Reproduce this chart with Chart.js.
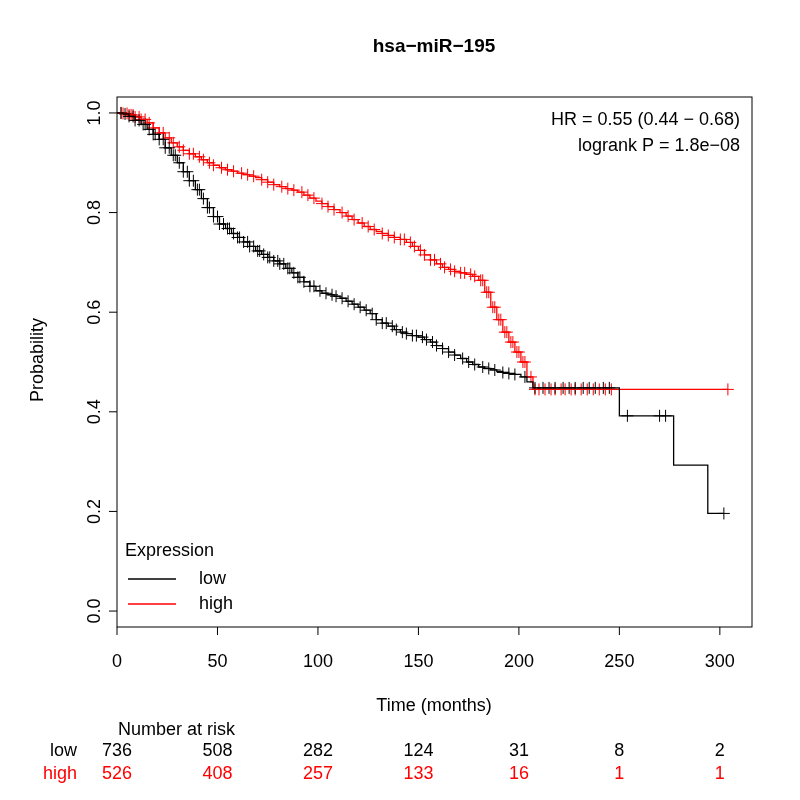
<!DOCTYPE html>
<html>
<head>
<meta charset="utf-8">
<script src="https://cdn.jsdelivr.net/npm/chart.js@4"></script>
<style>
  html, body { margin: 0; padding: 0; background: #fff; }
  #wrap { width: 800px; height: 800px; }
</style>
</head>
<body>
<div id="wrap"><canvas id="km" width="800" height="800"></canvas></div>
<script>
// survival step curves (time in months, probability)
const lowTimes  = [0,3,6,9,12,15,18,21,24,27,30,33,36,39,42,45,48,51,54,57,60,63,66,69,72,75,78,81,84,87,90,93,96,99,102,105,108,111,114,117,120,123,126,129,132,135,138,141,144,147,150,153,156,159,162,165,168,171,174,177,180,183,186,189,192,195,198,201,204,207,250,277,294,302];
const lowSurv   = [1.0,.998,.993,.985,.977,.967,.957,.947,.93,.915,.9,.882,.864,.846,.828,.81,.792,.777,.768,.758,.75,.741,.732,.723,.716,.71,.703,.697,.688,.679,.67,.661,.652,.643,.638,.635,.632,.628,.622,.616,.61,.604,.597,.585,.578,.572,.565,.56,.557,.553,.55,.545,.54,.533,.527,.52,.514,.507,.5,.495,.49,.487,.484,.481,.479,.477,.475,.47,.46,.448,.392,.293,.196,.196];
const highTimes = [0,3,6,9,12,15,18,21,24,27,30,33,36,39,42,45,48,51,54,57,60,63,66,69,72,75,78,81,84,87,90,93,96,99,102,105,108,111,114,117,120,123,126,129,132,135,138,141,144,147,150,153,156,159,162,165,168,171,174,177,180,183,186,189,192,195,198,201,204,207,304];
const highSurv  = [1,.999,.996,.992,.987,.98,.97,.96,.95,.94,.932,.925,.918,.912,.906,.9,.895,.89,.886,.883,.879,.876,.873,.87,.866,.861,.856,.852,.848,.845,.841,.835,.829,.823,.818,.812,.806,.8,.793,.786,.779,.772,.766,.762,.758,.754,.75,.746,.74,.732,.724,.715,.705,.697,.69,.686,.682,.679,.676,.672,.664,.64,.61,.585,.56,.54,.52,.5,.47,.445,.445];

// censoring times (marks drawn on the curve)
const lowCens  = [2,4,6,8,9,11,13,14,16,18,19,21,23,24,26,28,29,31,33,35,36,38,40,41,43,45,46,48,50,51,53,55,56,58,60,61,63,65,66,68,70,71,73,75,76,78,80,81,83,85,86,88,90,91,93,96,98,101,104,107,109,112,115,118,121,124,127,129,132,134,137,139,142,144,147,149,152,154,157,159,162,165,168,172,175,178,182,185,188,192,195,198,203,208,212,215,218,222,225,228,232,235,238,242,245,254,270,273,302];
const highCens = [2,3,5,6,7,8,9,11,12,14,16,18,21,23,26,28,31,33,36,38,41,43,46,48,52,55,58,62,65,68,72,75,78,82,85,88,92,95,98,102,105,108,112,115,118,122,125,128,132,135,138,141,143,146,148,151,153,156,158,161,163,166,168,171,173,176,178,181,182,184,185,187,188,190,191,193,194,196,197,199,200,202,203,206,208,210,213,216,218,221,223,226,228,231,234,237,240,243,246,304];

const xTicks = [0, 50, 100, 150, 200, 250, 300];
const yTicks = [0.0, 0.2, 0.4, 0.6, 0.8, 1.0];
const riskLow  = [736, 508, 282, 124, 31, 8, 2];
const riskHigh = [526, 408, 257, 133, 16, 1, 1];

const RED = '#ff0000';
const FONT = '"Liberation Sans", Arial, sans-serif';

function toPts(ts, ss) { return ts.map((t, i) => ({ x: t, y: ss[i] })); }
function survAt(ts, ss, t) {
  let v = ss[0];
  for (let i = 0; i < ts.length; i++) if (ts[i] <= t) v = ss[i];
  return v;
}
function censPts(c, ts, ss) { return c.map(t => ({ x: t, y: survAt(ts, ss, t) })); }

const frame = {
  id: 'frame',
  afterDraw(chart) {
    const { ctx, chartArea: a, scales: { x, y } } = chart;
    ctx.save();
    ctx.strokeStyle = '#000';
    ctx.lineWidth = 1;
    ctx.strokeRect(a.left, a.top, a.right - a.left, a.bottom - a.top);
    ctx.fillStyle = '#000';
    ctx.font = '18px ' + FONT;
    ctx.textAlign = 'center';
    ctx.textBaseline = 'middle';
    xTicks.forEach(v => {
      const px = x.getPixelForValue(v);
      ctx.beginPath(); ctx.moveTo(px, a.bottom); ctx.lineTo(px, a.bottom + 8); ctx.stroke();
      ctx.fillText(String(v), px, 662);
    });
    yTicks.forEach(v => {
      const py = y.getPixelForValue(v);
      ctx.beginPath(); ctx.moveTo(a.left, py); ctx.lineTo(a.left - 8, py); ctx.stroke();
      ctx.save(); ctx.translate(95, py); ctx.rotate(-Math.PI / 2);
      ctx.fillText(v.toFixed(1), 0, 0); ctx.restore();
    });
    ctx.save(); ctx.translate(38, 360); ctx.rotate(-Math.PI / 2);
    ctx.fillText('Probability', 0, 0); ctx.restore();
    ctx.fillText('Time (months)', 434, 706);
    ctx.font = 'bold 19px ' + FONT;
    ctx.fillText('hsa\u2212miR\u2212195', 434, 47);

    ctx.font = '18px ' + FONT;
    ctx.textAlign = 'right';
    ctx.fillText('HR = 0.55 (0.44 \u2212 0.68)', 740, 120);
    ctx.fillText('logrank P = 1.8e\u221208', 740, 146);

    // legend
    ctx.textAlign = 'left';
    ctx.fillText('Expression', 125, 551);
    ctx.fillText('low', 199, 579);
    ctx.fillText('high', 199, 604);
    ctx.lineWidth = 1.3;
    ctx.beginPath(); ctx.moveTo(128, 579); ctx.lineTo(176, 579); ctx.stroke();
    ctx.strokeStyle = RED;
    ctx.beginPath(); ctx.moveTo(128, 604); ctx.lineTo(176, 604); ctx.stroke();

    // number at risk
    ctx.fillText('Number at risk', 118, 730);
    ctx.textAlign = 'right';
    ctx.fillText('low', 77, 751);
    ctx.fillStyle = RED;
    ctx.fillText('high', 77, 774);
    ctx.textAlign = 'center';
    xTicks.forEach((v, i) => {
      const px = x.getPixelForValue(v);
      ctx.fillStyle = '#000';
      ctx.fillText(String(riskLow[i]), px, 751);
      ctx.fillStyle = RED;
      ctx.fillText(String(riskHigh[i]), px, 774);
    });
    ctx.restore();
  }
};

const line = (data, color) => ({
  type: 'line', data, borderColor: color, borderWidth: 1.3,
  stepped: 'before', pointRadius: 0, fill: false
});
const marks = (data, color) => ({
  type: 'scatter', data, borderColor: color, backgroundColor: color,
  pointStyle: 'cross', pointRadius: 6, borderWidth: 1
});

new Chart(document.getElementById('km'), {
  data: {
    datasets: [
      line(toPts(lowTimes, lowSurv), '#000'),
      line(toPts(highTimes, highSurv), RED),
      marks(censPts(lowCens, lowTimes, lowSurv), '#000'),
      marks(censPts(highCens, highTimes, highSurv), RED)
    ]
  },
  options: {
    responsive: false,
    animation: false,
    layout: { padding: { left: 117, right: 48, top: 97, bottom: 173 } },
    plugins: { legend: { display: false }, tooltip: { enabled: false } },
    scales: {
      x: { type: 'linear', min: 0, max: 316, display: false },
      y: { type: 'linear', min: -0.032, max: 1.032, display: false }
    }
  },
  plugins: [frame]
});
</script>
</body>
</html>
